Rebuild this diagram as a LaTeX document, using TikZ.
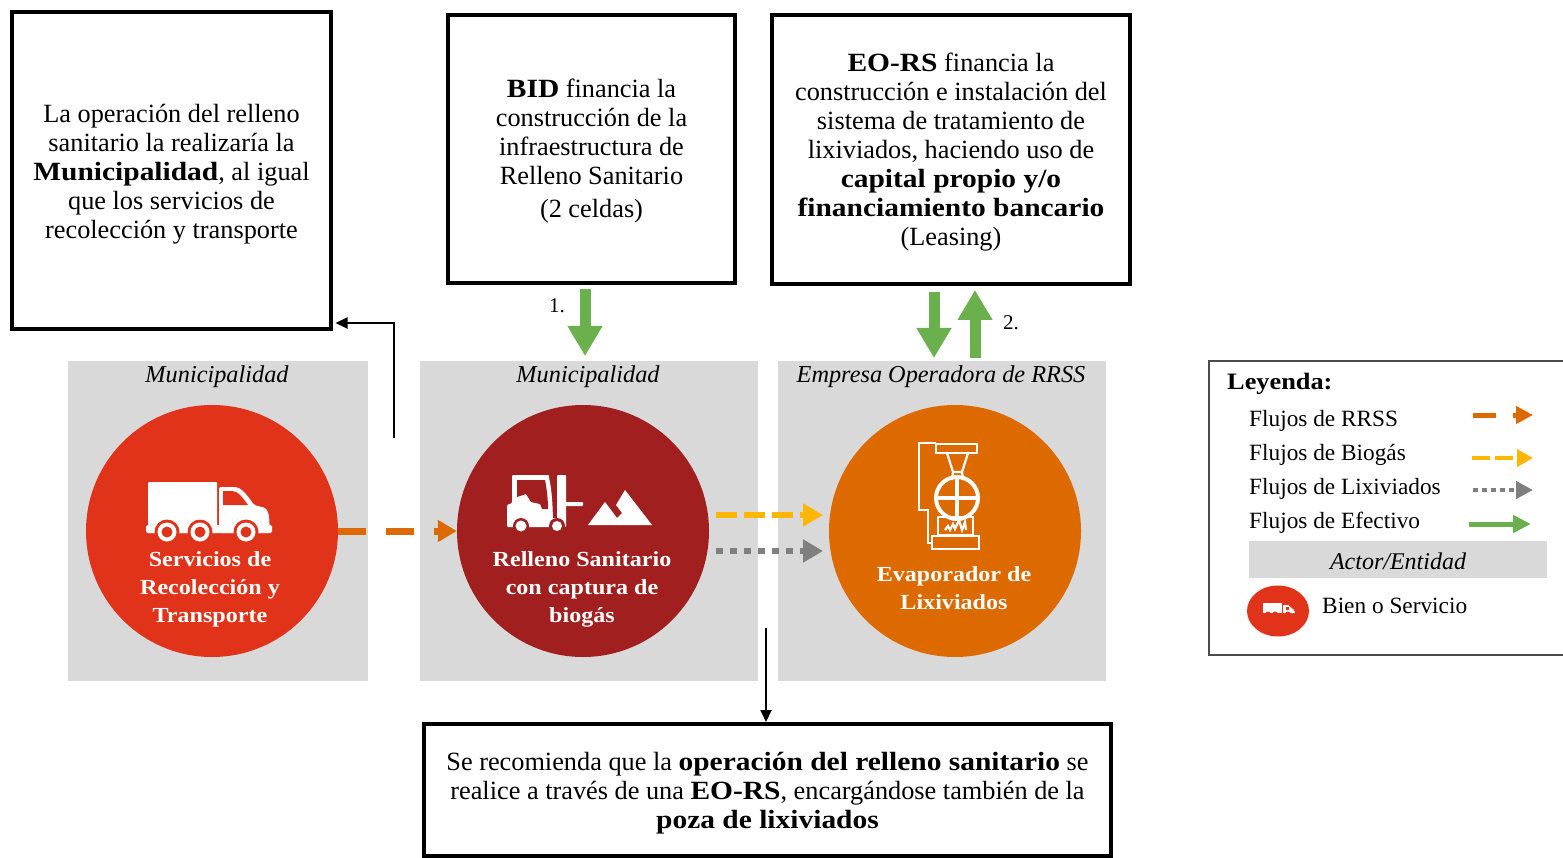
\documentclass[tikz,border=0pt]{standalone}
\usepackage{fontspec}
\setmainfont{Liberation Serif}[BoldFeatures={FakeStretch=1.12}]
\usetikzlibrary{arrows.meta,shapes.geometric}
\definecolor{cred}{HTML}{E03319}
\definecolor{cdark}{HTML}{A11F1F}
\definecolor{corange}{HTML}{DD6A00}
\definecolor{cyellow}{HTML}{FFB600}
\definecolor{cgrey}{HTML}{7F7F7F}
\definecolor{cgreen}{HTML}{6AB04C}
\definecolor{cpanel}{HTML}{D9D9D9}
\newcommand{\bodyfs}{\fontsize{26.3}{29}\selectfont}
\newcommand{\circfs}{\fontsize{21.5}{28}\selectfont\bfseries}
\newcommand{\legfs}{\fontsize{23.3}{28}\selectfont}
\tikzset{
  x=1pt,y=-1pt,
  note/.style={draw=black,line width=4pt,fill=white,inner sep=0pt},
  notetext/.style={align=center,inner sep=0pt,font=\bodyfs},
  panel/.style={fill=cpanel,draw=none,inner sep=0pt},
  disc/.style={circle,draw=none,inner sep=0pt,minimum size=252pt},
  disclabel/.style={text=white,align=center,font=\circfs,inner sep=0pt},
  head/.style={font=\fontsize{24.3}{28}\selectfont\itshape,inner sep=0pt},
  legtext/.style={font=\legfs,inner sep=0pt,anchor=west},
  rrss/.style={corange,line width=7pt,dash pattern=on 28pt off 20pt,-{Triangle[length=19pt,width=21pt]}},
  biogas/.style={cyellow,line width=6pt,dash pattern=on 21pt off 7pt,-{Triangle[length=20pt,width=22pt]}},
  lixi/.style={cgrey,line width=6pt,dash pattern=on 7pt off 7pt,-{Triangle[length=20pt,width=22pt]}},
  cash/.style={cgreen,line width=11pt,-{Triangle[length=30pt,width=33pt]}},
  thin arrow/.style={black,line width=2pt,-{Triangle[length=12pt,width=11pt]}},
  icon/.style={white,line width=2.2pt},
}
\begin{document}
\begin{tikzpicture}
\useasboundingbox (0,0) rectangle (1563,858);
% panels
\node[panel,minimum width=300pt,minimum height=320pt] (p1) at (218,521) {};
\node[panel,minimum width=338pt,minimum height=320pt] (p2) at (589,521) {};
\node[panel,minimum width=328pt,minimum height=320pt] (p3) at (942,521) {};
\node[head] (h1) at (217,376.5) {Municipalidad};
\node[head] (h2) at (588,376.5) {Municipalidad};
\node[head] (h3) at (941,376.5) {Empresa Operadora de RRSS};
% note boxes
\node[note,minimum width=319pt,minimum height=317pt] (b1) at (171.5,170.5) {};
\node[note,minimum width=287pt,minimum height=268pt] (b2) at (591.5,149) {};
\node[note,minimum width=358pt,minimum height=269pt] (b3) at (951,149.5) {};
\node[note,minimum width=687pt,minimum height=132pt] (b4) at (767.5,790) {};
\node[notetext,yshift=-3.5pt] (b1t) at (b1) {La operación del relleno\\sanitario la realizaría la\\\textbf{Municipalidad}, al igual\\que los servicios de\\recolección y transporte};
\node[notetext,yshift=-2.5pt] (b2t) at (b2) {\textbf{BID} financia la\\construcción de la\\infraestructura de\\Relleno Sanitario\\[4pt](2 celdas)};
\node[notetext,yshift=-2.5pt] (b3t) at (b3) {\textbf{EO-RS} financia la\\construcción e instalación del\\sistema de tratamiento de\\lixiviados, haciendo uso de\\\textbf{capital propio y/o}\\\textbf{financiamiento bancario}\\(Leasing)};
\node[notetext,yshift=-3pt] (b4t) at (b4) {Se recomienda que la \textbf{operación del relleno sanitario} se\\realice a través de una \textbf{EO-RS}, encargándose también de la\\\textbf{poza de lixiviados}};
% discs
\node[disc,fill=cred] (c1) at (212,531) {};
\node[disc,fill=cdark] (c2) at (583,531) {};
\node[disc,fill=corange] (c3) at (955,531) {};
\node[disclabel] (t1) at (210,589) {Servicios de\\Recolección y\\Transporte};
\node[disclabel] (t2) at (582,589) {Relleno Sanitario\\con captura de\\biogás};
\node[disclabel] (t3) at (954,588) {Evaporador de\\Lixiviados};
% truck icon
\fill[white,rounded corners=1pt] (148,482)--(217,482)--(217,533)--(148,533)--cycle;
\fill[white,rounded corners=1.5pt] (146,525) rectangle (272,533);
\fill[white,rounded corners=2pt] (219,533)--(219,487)--(233,487) .. controls (240,487) and (246,493) .. (254,505)--(266,508)--(269,515)--(270,533)--cycle;
\fill[cred] (223,491)--(232,491) .. controls (238,491) and (243,498) .. (248,505)--(223,505)--cycle;
\foreach \wx in {167,200,246}{
  \fill[cred] (\wx,532) circle[radius=12.5pt];
  \fill[white] (\wx,532) circle[radius=9.5pt];
  \fill[cred] (\wx,532) circle[radius=5.5pt];
}
% forklift icon
\fill[white,rounded corners=1pt] (507,527)--(507,505)--(512,503)--(512,475)--(549,475)--(549,478) .. controls (552,490) and (553,510) .. (553,527)--cycle;
\fill[white,rounded corners=1pt] (557,475) rectangle (566,527);
\fill[white,rounded corners=1pt] (560,502) rectangle (583,506);
\fill[white] (553,518) rectangle (560,526);
\fill[cdark] (517,480)--(545,480) .. controls (547,490) and (548,500) .. (548,509)--(542,509)--(540,504)--(531,502)--(526,494)--(517,497)--cycle;
\fill[cdark] (521,526) circle[radius=8pt];
\fill[cdark] (557,526) circle[radius=8pt];
\fill[white] (521,526) circle[radius=5.5pt];
\fill[white] (557,526) circle[radius=5pt];
% mountains
\fill[white] (588,525)--(605,502)--(617,518)--(622,513)--(616,505)--(625,490)--(652,525)--cycle;
% evaporator icon
\draw[icon] (936,443)--(919,443)--(919,510)--(928,510)--(928,543)--(933,543);
\draw[icon] (936,444) rectangle (977,453);
\draw[icon] (947,453)--(953,472)--(962,472)--(968,453);
\draw[icon] (953,472)--(952,480) (962,472)--(963,480);
\draw[white,line width=4pt] (957,498) circle[radius=21pt];
\draw[white,line width=3.5pt] (936,498)--(978,498) (957,477)--(957,519);
\draw[icon] (938,517) rectangle (973,535);
\draw[icon] (932,536) rectangle (979,549);
\draw[white,line width=2.2pt] (945,530)--(948,526)--(950,530)--(953,524)--(955,529)--(959,520)--(962,530)--(965,522)--(966,530);
% coordinates of free connector ends
\coordinate (o1) at (c1.east);
\coordinate (o2) at (c2.west);
\coordinate (y1) at (716,515);
\coordinate (y2) at (823,515);
\coordinate (g1) at (716,551);
\coordinate (g2) at (823,551);
\coordinate (a1s) at (585,289);
\coordinate (a1e) at (585,356);
\coordinate (a2s) at (934,292);
\coordinate (a2e) at (934,358);
\coordinate (a3s) at (975,358);
\coordinate (a3e) at (975,290);
\coordinate (k1) at (394,438);
\coordinate (k2) at (394,323);
\coordinate (k3) at (335.5,323);
\coordinate (m1) at (766,628);
\coordinate (m2) at (766,722);
% connectors
\draw[rrss] (o1)--(o2);
\draw[biogas] (y1)--(y2);
\draw[lixi] (g1)--(g2);
\draw[cash] (a1s)--(a1e);
\draw[cash] (a2s)--(a2e);
\draw[cash] (a3s)--(a3e);
\draw[thin arrow] (k1)--(k2)--(k3);
\draw[thin arrow] (m1)--(m2);
\node[font=\fontsize{21}{24}\selectfont,inner sep=0pt] (n1) at (557,306) {1.};
\node[font=\fontsize{21}{24}\selectfont,inner sep=0pt] (n2) at (1011,323) {2.};
% legend
\draw[draw=black!70,line width=1.2pt] (1563,361)--(1209,361)--(1209,655)--(1563,655);
\node[legtext,font=\fontsize{23.5}{28}\selectfont\bfseries] (l0) at (1227,383.5) {Leyenda:};
\node[legtext] (l1) at (1249,421) {Flujos de RRSS};
\node[legtext] (l2) at (1249,455) {Flujos de Biogás};
\node[legtext] (l3) at (1249,489) {Flujos de Lixiviados};
\node[legtext] (l4) at (1249,523) {Flujos de Efectivo};
\node[panel,minimum width=298pt,minimum height=37pt] (l5) at (1398,559.5) {};
\node[head,font=\fontsize{24}{28}\selectfont\itshape] (l5t) at (1398,561.5) {Actor/Entidad};
\node[ellipse,fill=cred,inner sep=0pt,minimum width=62pt,minimum height=51pt] (l6c) at (1278,611) {};
\node[legtext] (l6) at (1322,606) {Bien o Servicio};
% legend mini truck
\begin{scope}[shift={(1263,603)}]
\fill[white] (0,0) rectangle (19,10);
\fill[white] (20,2)--(25,2)--(31,7)--(32,10)--(20,10)--cycle;
\fill[cred] (23,4) rectangle (26,7);
\foreach \wx in {5,12,25}{\fill[cred] (\wx,11) circle[radius=2.5pt];}
\end{scope}
% legend arrows
\coordinate (la1) at (1473,415); \coordinate (la2) at (1533,415);
\coordinate (lb1) at (1472,458); \coordinate (lb2) at (1533,458);
\coordinate (lc1) at (1473,490); \coordinate (lc2) at (1533,490);
\coordinate (ld1) at (1469,524); \coordinate (ld2) at (1531,524);
\draw[corange,line width=5pt,dash pattern=on 23pt off 17pt,-{Triangle[length=17pt,width=17pt]}] (la1)--(la2);
\draw[cyellow,line width=4pt,dash pattern=on 18pt off 5pt,-{Triangle[length=16pt,width=17pt]}] (lb1)--(lb2);
\draw[cgrey,line width=4.5pt,dash pattern=on 4.5pt off 4.5pt,-{Triangle[length=17pt,width=17pt]}] (lc1)--(lc2);
\draw[cgreen,line width=5pt,-{Triangle[length=18pt,width=17pt]}] (ld1)--(ld2);
\end{tikzpicture}
\end{document}
